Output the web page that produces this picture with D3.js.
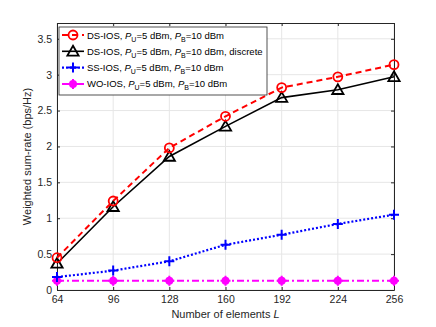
<!DOCTYPE html>
<html><head><meta charset="utf-8">
<script src="https://cdn.jsdelivr.net/npm/d3@7"></script>
<style>body{margin:0;background:#fff}text{font-family:"Liberation Sans",Arial,sans-serif}</style>
</head><body><svg id="c" width="436" height="327"></svg>
<script>
const xVals = [64, 96, 128, 160, 192, 224, 256];
const dsIos = [0.45, 1.24, 1.98, 2.42, 2.82, 2.97, 3.14];
const dsIosDiscrete = [0.37, 1.16, 1.86, 2.28, 2.68, 2.79, 2.97];
const ssIos = [0.18, 0.27, 0.40, 0.63, 0.77, 0.92, 1.05];
const woIos = [0.13, 0.13, 0.13, 0.13, 0.13, 0.13, 0.13];
const yTicks = [0, 0.5, 1, 1.5, 2, 2.5, 3, 3.5];

const svg = d3.select("#c");
const L = 57, R = 394, T = 23, B = 290;
const x = d3.scaleLinear().domain([64, 256]).range([L, R]);
const y = d3.scaleLinear().domain([0, 3.72]).range([B, T]);
const ax = "#262626";

// grid
svg.append("g").selectAll("line").data(xVals).join("line")
  .attr("x1", d => x(d)).attr("x2", d => x(d)).attr("y1", T).attr("y2", B)
  .attr("stroke", "#e6e6e6").attr("stroke-width", 1);
svg.append("g").selectAll("line").data(yTicks).join("line")
  .attr("x1", L).attr("x2", R).attr("y1", d => y(d)).attr("y2", d => y(d))
  .attr("stroke", "#e6e6e6").attr("stroke-width", 1);

// axes
const xa = svg.append("g").attr("transform", `translate(0,${B})`)
  .call(d3.axisBottom(x).tickValues(xVals).tickSize(-3).tickSizeOuter(0).tickPadding(6));
const ya = svg.append("g").attr("transform", `translate(${L},0)`)
  .call(d3.axisLeft(y).tickValues(yTicks).tickFormat(d3.format("~g")).tickSize(-3).tickSizeOuter(0).tickPadding(5));
[xa, ya].forEach(g => {
  g.selectAll("path,line").attr("stroke", ax);
  g.selectAll("text").attr("fill", ax).attr("font-size", 10.5);
});
const xt = svg.append("g").attr("transform", `translate(0,${T})`)
  .call(d3.axisTop(x).tickValues(xVals).tickSize(-3).tickSizeOuter(0).tickFormat(""));
const yr = svg.append("g").attr("transform", `translate(${R},0)`)
  .call(d3.axisRight(y).tickValues(yTicks).tickSize(-3).tickSizeOuter(0).tickFormat(""));
[xt, yr].forEach(g => g.selectAll("path,line").attr("stroke", ax));

svg.append("text").attr("x", (L + R) / 2).attr("y", 318).attr("text-anchor", "middle")
  .attr("font-size", 11).attr("fill", ax)
  .html('Number of elements <tspan font-style="italic">L</tspan>');
svg.append("text").attr("transform", `translate(31,${(T + B) / 2}) rotate(-90)`)
  .attr("text-anchor", "middle").attr("font-size", 11).attr("fill", ax)
  .text("Weighted sum-rate (bps/Hz)");

const series = [
  {v: dsIos, c: "#ff0000", dash: "6,4", w: 2, m: "circle"},
  {v: dsIosDiscrete, c: "#000000", dash: null, w: 1.6, m: "triangle"},
  {v: ssIos, c: "#0000ff", dash: "2,2", w: 2.2, m: "plus"},
  {v: woIos, c: "#ff00ff", dash: "7,3,2,3", w: 2, m: "dot"}
];
const line = d3.line().x((d, i) => x(xVals[i])).y(d => y(d));

function marker(g, type, c, cx, cy) {
  if (type === "circle") g.append("circle").attr("cx", cx).attr("cy", cy).attr("r", 4.5)
    .attr("fill", "none").attr("stroke", c).attr("stroke-width", 1.8);
  else if (type === "triangle") g.append("path")
    .attr("d", d3.symbol(d3.symbolTriangle, 55)()).attr("transform", `translate(${cx},${cy + 1})`)
    .attr("fill", "none").attr("stroke", c).attr("stroke-width", 1.8);
  else if (type === "plus") g.append("path")
    .attr("d", `M${cx - 5},${cy}H${cx + 5}M${cx},${cy - 5}V${cy + 5}`)
    .attr("stroke", c).attr("stroke-width", 2);
  else {
    g.append("circle").attr("cx", cx).attr("cy", cy).attr("r", 4).attr("fill", c);
    g.append("path").attr("d", `M${cx - 5},${cy}H${cx + 5}M${cx},${cy - 5}V${cy + 5}`)
      .attr("stroke", c).attr("stroke-width", 2);
  }
}

series.slice().reverse().forEach(s => {
  const g = svg.append("g");
  g.append("path").datum(s.v).attr("d", line).attr("fill", "none")
    .attr("stroke", s.c).attr("stroke-width", s.w).attr("stroke-dasharray", s.dash);
  s.v.forEach((d, i) => marker(g, s.m, s.c, x(xVals[i]), y(d)));
});

// legend
const lg = svg.append("g");
lg.append("rect").attr("x", 59).attr("y", 27).attr("width", 208).attr("height", 68)
  .attr("fill", "#fff").attr("stroke", ax).attr("stroke-width", 0.8);
const labels = [
  'DS-IOS, <tspan font-style="italic">P</tspan><tspan font-size="7" dy="3">U</tspan><tspan dy="-3">=5 dBm, </tspan><tspan font-style="italic">P</tspan><tspan font-size="7" dy="3">B</tspan><tspan dy="-3">=10 dBm</tspan>',
  'DS-IOS, <tspan font-style="italic">P</tspan><tspan font-size="7" dy="3">U</tspan><tspan dy="-3">=5 dBm, </tspan><tspan font-style="italic">P</tspan><tspan font-size="7" dy="3">B</tspan><tspan dy="-3">=10 dBm, discrete</tspan>',
  'SS-IOS, <tspan font-style="italic">P</tspan><tspan font-size="7" dy="3">U</tspan><tspan dy="-3">=5 dBm, </tspan><tspan font-style="italic">P</tspan><tspan font-size="7" dy="3">B</tspan><tspan dy="-3">=10 dBm</tspan>',
  'WO-IOS, <tspan font-style="italic">P</tspan><tspan font-size="7" dy="3">U</tspan><tspan dy="-3">=5 dBm, </tspan><tspan font-style="italic">P</tspan><tspan font-size="7" dy="3">B</tspan><tspan dy="-3">=10 dBm</tspan>'
];
series.forEach((s, i) => {
  const cy = 35 + i * 16.3;
  const g = lg.append("g");
  g.append("line").attr("x1", 62).attr("x2", 84).attr("y1", cy).attr("y2", cy)
    .attr("stroke", s.c).attr("stroke-width", s.w).attr("stroke-dasharray", s.dash);
  marker(g, s.m, s.c, 73, cy);
  g.append("text").attr("x", 87).attr("y", cy + 3.5).attr("font-size", 9.5).attr("fill", "#000").html(labels[i]);
});
</script></body></html>
